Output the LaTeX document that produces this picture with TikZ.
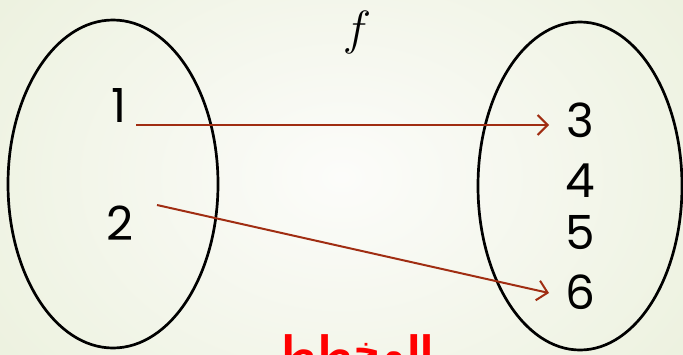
\documentclass[tikz,border=0pt]{standalone}
\usepackage{fix-cm}
\usepackage{fontspec}
\usetikzlibrary{arrows.meta}
\newfontfamily\digitfont{Poppins}
\newfontfamily\arabicfont[Script=Arabic]{DejaVu Sans}
\TeXXeTstate=1
\definecolor{arrowred}{RGB}{160,45,18}
\definecolor{bgouter}{RGB}{236,241,222}
\definecolor{bginner}{RGB}{252,252,250}

\begin{document}
\begin{tikzpicture}[x=1pt,y=-1pt,
  num/.style={font=\digitfont\fontsize{47}{50}\selectfont, inner sep=0pt},
  maparrow/.style={arrowred, line width=2pt, -{Straight Barb[length=10pt,width=20pt,line width=2pt]}}]
\clip (0,0) rectangle (683,354);
\shade[inner color=bginner, outer color=bgouter] (-100,-150) rectangle (783,504);
\draw[line width=2.7pt] (113,184) ellipse [x radius=105, y radius=164];
\draw[line width=2.7pt] (580,186) ellipse [x radius=102, y radius=164];
\node (f) at (357,32) {\fontsize{48}{52}\selectfont$f$};
\node[num] (n1) at (119,106) {1};
\node[num] (n2) at (120,223) {2};
\node[num] (n3) at (580,120) {3};
\node[num] (n4) at (580,181) {4};
\node[num] (n5) at (580,233) {5};
\node[num] (n6) at (580,292) {6};
\coordinate (s1) at (136,125);
\coordinate (s2) at (157,205);
\coordinate (e3) at (549,125);
\coordinate (e6) at (549,293);
\draw[maparrow] (s1) -- (e3);
\draw[maparrow] (s2) -- (e6);
\node[anchor=base, red, inner sep=0pt] (title) at (355,363) {\arabicfont\bfseries\fontsize{38}{40}\selectfont\beginR المخطط\endR};
\end{tikzpicture}
\end{document}
